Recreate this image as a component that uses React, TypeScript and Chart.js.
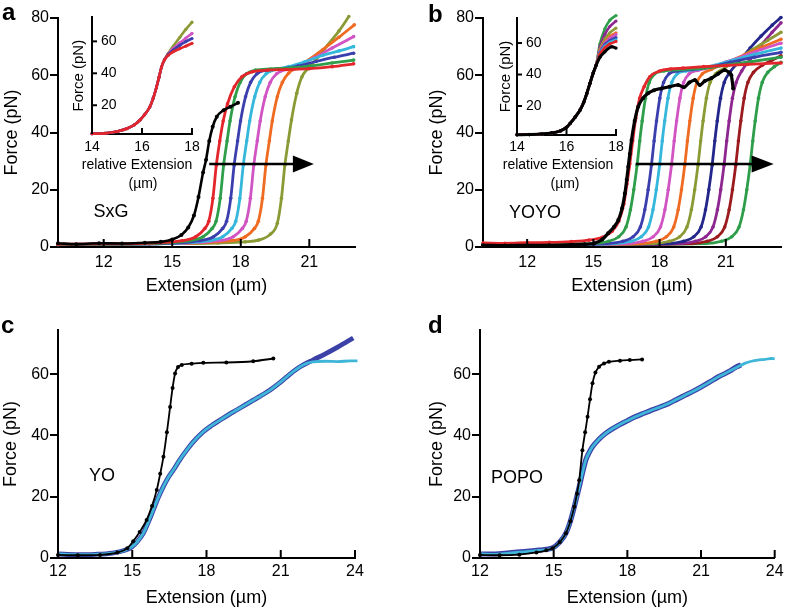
import React, { useEffect, useRef } from 'react';
import { Chart, registerables } from 'chart.js';

Chart.register(...registerables);

const FONT = "'Liberation Sans', Arial, Helvetica, sans-serif";
type Pt = [number, number];

// ---------------- tick values ----------------
const xTicksAB = [12, 15, 18, 21];
const xTicksCD = [12, 15, 18, 21, 24];
const yTicksAB = [0, 20, 40, 60, 80];
const yTicksCD = [0, 20, 40, 60];
const insetXTicks = [14, 16, 18];
const insetYTicks = [20, 40, 60];

// ---------------- panel a (SxG) ----------------
const aBlack: Pt[] = [[10,1.3],[10.8,1.0],[11.8,1.3],[12.8,1.2],[13.8,1.5],[14.5,1.8],[15.0,2.6],[15.4,4.2],[15.7,6.8],[15.95,11],[16.15,17.5],[16.35,26],[16.48,30.5],[16.62,37],[16.77,42],[16.95,45.5],[17.25,47.8],[17.55,49],[17.88,50.4]];
const aRed: Pt[] = [[10,1.0],[12,1.1],[13.5,1.2],[14.5,1.5],[15.43,2.2],[16.03,3.6],[16.43,6.5],[16.6,9],[16.78,17],[16.93,28.6],[17.08,37],[17.23,44],[17.42,50],[17.72,56],[18.05,59.5],[18.5,61.2],[19.2,61.8],[20,62],[21,62.3],[22,63],[22.94,64]];
const aGreen: Pt[] = [[10,0.9],[12,1.0],[14,1.2],[15.75,2.2],[16.35,3.6],[16.75,6.5],[16.92,9],[17.1,17],[17.25,28.6],[17.4,37],[17.53,44],[17.75,52.5],[17.97,57.5],[18.25,60.5],[18.65,61.8],[19.3,62.2],[20.2,62.6],[21,63.2],[22,64.3],[22.94,65.3]];
const aBlue: Pt[] = [[10,0.9],[12,1.0],[14,1.1],[16.21,2.2],[16.81,3.6],[17.21,6.5],[17.38,9],[17.56,17],[17.71,28.6],[17.86,37],[17.99,44],[18.21,52.5],[18.43,57.5],[18.71,60.5],[19.11,61.8],[19.8,62.3],[20.5,63.2],[21.3,64.8],[22.1,66.3],[22.94,67.7]];
const aCyan: Pt[] = [[10,0.9],[12,1.0],[14,1.1],[16.61,2.2],[17.21,3.6],[17.61,6.5],[17.78,9],[17.96,17],[18.11,28.6],[18.26,37],[18.39,44],[18.61,52.5],[18.83,57.5],[19.11,60.5],[19.51,62],[20.1,63],[20.8,64.7],[21.6,67],[22.3,68.5],[22.94,70]];
const aMagenta: Pt[] = [[10,0.9],[12,1.0],[14,1.1],[17.07,2.2],[17.67,3.6],[18.07,6.5],[18.24,9],[18.42,17],[18.57,28.6],[18.72,37],[18.85,44],[19.07,52.5],[19.29,57.5],[19.57,60.5],[19.97,62],[20.5,63.5],[21.2,66],[22,69.5],[22.94,73.5]];
const aOrange: Pt[] = [[10,0.9],[12,1.0],[14,1.1],[17.6,2.2],[18.2,3.6],[18.6,6.5],[18.77,9],[18.95,17],[19.1,28.6],[19.25,37],[19.38,44],[19.6,52.5],[19.82,57.5],[20.1,60.8],[20.5,62.8],[21,65.5],[21.6,69],[22.3,73.3],[22.97,77.6]];
const aOlive: Pt[] = [[10,0.9],[12,1.0],[14,1.1],[17,1.4],[18.2,1.8],[18.77,2.4],[19.3,4.5],[19.6,8.3],[19.78,17],[19.93,28.6],[20.08,37],[20.22,44.4],[20.45,53.7],[20.68,59.5],[20.95,62.4],[21.3,65.5],[21.8,70.5],[22.3,75.5],[22.73,80.5]];
const arrowA = [16.62, 20.28, 21.2, 29];

// inset a
const iaRise: Pt[] = [[14,2.2],[14.5,2.4],[15,3.5],[15.4,5.4],[15.7,7.8],[15.91,10.6],[16.1,14],[16.31,18.9],[16.45,24.5],[16.58,31.4],[16.68,37.5],[16.78,43.9],[16.9,48.5]];
const iaRedTop: Pt[] = [[17.05,51.3],[17.25,53.5],[17.51,55.4],[17.75,57],[18,58.8]];
const iaBlueTop: Pt[] = [[17.05,51.8],[17.25,54.5],[17.51,57.5],[17.75,59.8],[18,61.8]];
const iaMagentaTop: Pt[] = [[17.05,52],[17.25,55.5],[17.51,59],[17.75,62],[18,65]];
const iaOliveTop: Pt[] = [[17.05,52.5],[17.25,57],[17.51,62.5],[17.75,67.5],[18,72]];

// ---------------- panel b (YOYO) ----------------
const bBlack: Pt[] = [[10,0.6],[11,0.5],[12,0.6],[13,0.6],[14,0.8],[14.6,1.0],[15.05,1.3],[15.4,2.6],[15.67,4.8],[15.93,7],[16.13,9.4],[16.3,13.5],[16.43,18.8],[16.51,23.5],[16.58,28],[16.65,32.5],[16.73,37.4],[16.87,44],[17.03,49],[17.25,52],[17.48,53.7],[17.75,54.8],[18.09,55.4],[18.45,56],[18.84,56.6],[19.1,55.8],[19.35,57.5],[19.6,58.3],[19.82,56.6],[20.05,58],[20.35,59],[20.65,60.5],[20.95,61.8],[21.15,61],[21.25,60],[21.33,55.4]];
const bRed: Pt[] = [[10,1.4],[11,1.3],[12,1.5],[13,1.6],[14,1.9],[14.8,2.4],[15.4,3.4],[15.85,5.5],[16.15,9],[16.38,15],[16.52,22],[16.65,29],[16.78,37],[16.92,45],[17.1,52],[17.3,56],[17.56,59.5],[18,61.5],[18.5,62.2],[19.06,62.5],[20,63],[21,63.4],[22,63.8],[23.5,64.3]];
const bGreen1: Pt[] = [[10,0.7],[12,0.8],[14,1.0],[15,1.2],[15.68,2],[16.15,3.6],[16.48,7],[16.68,13],[16.83,20],[16.98,28.6],[17.1,37],[17.21,44],[17.36,52],[17.53,57.5],[17.78,60.5],[18.2,61.5],[19,62],[20,62.5],[21,63.5],[22.2,64.8],[23.5,66.3]];
const bBlue: Pt[] = [[10,0.7],[12,0.8],[14,0.9],[15.63,1.2],[16.33,2],[16.8,3.6],[17.13,7],[17.33,13],[17.48,20],[17.63,28.6],[17.75,37],[17.86,44],[18.01,52],[18.18,57.5],[18.43,60.5],[18.83,61.5],[19.5,62],[20.3,62.8],[21.2,64.5],[22.3,66.3],[23.5,68]];
const bCyan: Pt[] = [[10,0.7],[13,0.8],[16,1.2],[16.7,2],[17.17,3.6],[17.5,7],[17.7,13],[17.85,20],[18.0,28.6],[18.12,37],[18.23,44],[18.38,52],[18.55,57.5],[18.8,60.5],[19.2,61.5],[19.8,62.2],[20.5,63.5],[21.3,65.2],[22.3,67.3],[23.5,69.5]];
const bMagenta: Pt[] = [[10,0.7],[13,0.8],[16.54,1.2],[17.24,2],[17.71,3.6],[18.04,7],[18.24,13],[18.39,20],[18.54,28.6],[18.66,37],[18.77,44],[18.92,52],[19.09,57.5],[19.34,60.5],[19.74,61.7],[20.3,62.8],[21,64.6],[21.8,66.7],[22.6,69],[23.5,71.2]];
const bOrange: Pt[] = [[10,0.7],[13,0.8],[17.14,1.2],[17.84,2],[18.31,3.6],[18.64,7],[18.84,13],[18.99,20],[19.14,28.6],[19.26,37],[19.37,44],[19.52,52],[19.69,57.5],[19.94,60.5],[20.34,62],[21,64.3],[21.8,67],[22.6,69.7],[23.5,72.6]];
const bOlive: Pt[] = [[10,0.7],[13,0.8],[17.74,1.2],[18.44,2],[18.91,3.6],[19.24,7],[19.44,13],[19.59,20],[19.74,28.6],[19.86,37],[19.97,44],[20.12,52],[20.29,57.5],[20.54,60.5],[20.94,62.5],[21.5,65.3],[22.2,68.9],[22.9,72.2],[23.5,75]];
const bNavy: Pt[] = [[10,0.7],[13,0.8],[18.38,1.2],[19.08,2],[19.55,3.6],[19.88,7],[20.08,13],[20.23,20],[20.38,28.6],[20.5,37],[20.61,44],[20.76,52],[20.93,57.5],[21.18,61],[21.6,64.8],[22.1,69.5],[22.6,73.7],[23.1,77.5],[23.5,80.2]];
const bPurple: Pt[] = [[10,0.7],[13,0.8],[18.92,1.2],[19.62,2],[20.09,3.6],[20.42,7],[20.62,13],[20.77,20],[20.92,28.6],[21.04,37],[21.15,44],[21.3,52],[21.47,57.5],[21.72,61.5],[22.1,65.5],[22.6,70.5],[23.1,75],[23.5,78.3]];
const bMaroon: Pt[] = [[10,0.7],[13,0.8],[19.45,1.2],[20.15,2],[20.62,3.6],[20.95,7],[21.15,13],[21.3,20],[21.45,28.6],[21.57,37],[21.68,44],[21.83,52],[22.0,57.5],[22.25,61],[22.65,63.5],[23.1,65.3],[23.5,66.8]];
const bGreen2: Pt[] = [[10,0.7],[13,0.8],[20.1,1.2],[20.8,2],[21.27,3.6],[21.6,7],[21.8,13],[21.95,20],[22.1,28.6],[22.22,37],[22.33,44],[22.48,52],[22.65,57.5],[22.9,61],[23.2,63],[23.5,64.5]];
const arrowB = [16.92, 22.17, 23.17, 29];

// inset b
const ibRise: Pt[] = [[14,1.8],[14.5,1.9],[15,2.2],[15.4,2.9],[15.75,4.2],[16.0,6.5],[16.15,9],[16.35,13],[16.55,17.5],[16.7,22.5],[16.82,28],[16.95,34.5],[17.08,41],[17.2,46]];
const ibBlackTop: Pt[] = [[17.35,51],[17.55,54.5],[17.83,57.7],[18,56.8]];
const ibRedTop: Pt[] = [[17.35,53],[17.55,57],[17.75,59.5],[18,61]];
const ibCyanTop: Pt[] = [[17.35,53.5],[17.55,58],[17.75,60.5],[18,62]];
const ibBlueTop: Pt[] = [[17.35,54],[17.55,59],[17.75,61.5],[18,63.5]];
const ibMagentaTop: Pt[] = [[17.35,54.5],[17.55,60],[17.75,63],[18,65.5]];
const ibOrangeTop: Pt[] = [[17.35,55],[17.55,60.5],[17.75,64],[18,66.5]];
const ibOliveTop: Pt[] = [[17.35,56],[17.55,62.5],[17.75,66.5],[18,69.5]];
const ibPurpleTop: Pt[] = [[17.35,57.5],[17.55,65.5],[17.75,70.5],[18,74]];
const ibGreenTop: Pt[] = [[17.35,59.5],[17.55,69],[17.75,74.5],[18,77.5]];

// ---------------- panel c (YO) ----------------
const cBlack: Pt[] = [[12,1.0],[12.8,0.9],[13.7,1.0],[14.4,1.8],[14.8,3.2],[15.04,5.5],[15.3,8.5],[15.58,12.4],[15.8,17],[15.99,22.2],[16.13,27.5],[16.26,33],[16.4,41],[16.53,49.3],[16.63,55.5],[16.73,60.2],[16.85,62.3],[17.0,63],[17.4,63.4],[17.87,63.7],[18.8,63.8],[19.89,64.2],[20.7,65.1]];
const cCyan: Pt[] = [[12,1.3],[12.7,1.1],[13.5,1.2],[14.2,1.6],[14.7,2.5],[14.98,3.6],[15.2,5.3],[15.45,8.1],[15.65,11.7],[15.85,15.7],[16.05,19.7],[16.25,23.2],[16.45,26.2],[16.66,28.7],[16.9,31.8],[17.2,35.2],[17.5,38.2],[17.87,41.2],[18.2,43.2],[18.55,45],[18.9,46.8],[19.22,48.3],[19.55,49.9],[19.89,51.5],[20.23,53.1],[20.57,54.8],[20.9,56.8],[21.24,59.1],[21.5,60.8],[21.78,62.4],[22.05,63.5],[22.3,64],[22.8,64.2],[23.3,64.1],[23.8,64.3],[24.1,64.3]];
const cBlue: Pt[] = [[12,1.3],[12.7,1.1],[13.5,1.2],[14.2,1.6],[14.7,2.5],[14.98,3.6],[15.2,5.3],[15.45,8.1],[15.65,11.7],[15.85,15.7],[16.05,19.7],[16.25,23.2],[16.45,26.2],[16.66,28.7],[16.9,31.8],[17.2,35.2],[17.5,38.2],[17.87,41.2],[18.2,43.2],[18.55,45],[18.9,46.8],[19.22,48.3],[19.55,49.9],[19.89,51.5],[20.23,53.1],[20.57,54.8],[20.9,56.8],[21.24,59.1],[21.5,60.8],[21.78,62.4],[22.3,64.6],[22.8,66.6],[23.3,68.8],[23.93,71.8]];

// ---------------- panel d (POPO) ----------------
const dBlack: Pt[] = [[12,1.0],[12.8,0.9],[13.6,1.1],[14.3,1.8],[14.7,2.5],[14.96,3.2],[15.25,5.2],[15.5,8.1],[15.68,12],[15.84,16.7],[15.95,21],[16.04,25.4],[16.17,35.2],[16.28,41],[16.38,46.1],[16.48,51.8],[16.58,57],[16.7,60.5],[16.85,62.4],[17.05,63.5],[17.25,64],[17.7,64.4],[18.1,64.6],[18.6,64.8]];
const dCyan: Pt[] = [[12,1.3],[12.6,1.2],[13.2,1.6],[13.8,2.0],[14.4,2.5],[14.96,3.2],[15.25,5.2],[15.5,8.1],[15.68,12],[15.84,16.7],[16.04,23.2],[16.18,28],[16.31,32],[16.45,34.5],[16.58,36.3],[16.85,38.8],[17.12,40.7],[17.4,42.2],[17.66,43.4],[18.0,44.8],[18.33,46.1],[18.66,47.2],[19.0,48.3],[19.34,49.3],[19.68,50.4],[20.0,51.7],[20.35,53.1],[20.7,54.5],[21.02,55.9],[21.35,57.4],[21.7,59.1],[22.0,60.3],[22.23,61.3],[22.5,62.4],[22.78,63.5],[23.05,64.2],[23.31,64.6],[23.6,64.8],[23.85,65.1],[24,65]];
const dBlue: Pt[] = [[12,1.3],[12.6,1.3],[13.2,1.7],[13.8,2.1],[14.4,2.6],[14.96,3.3],[15.25,5.2],[15.5,8.1],[15.68,12],[15.84,16.7],[16.04,23.2],[16.18,28],[16.31,32],[16.45,34.5],[16.58,36.3],[16.85,38.8],[17.12,40.7],[17.4,42.2],[17.66,43.4],[18.0,44.8],[18.33,46.1],[18.66,47.2],[19.0,48.3],[19.34,49.3],[19.68,50.4],[20.0,51.7],[20.35,53.1],[20.7,54.5],[21.02,55.9],[21.35,57.4],[21.7,59.1],[22.0,60.3],[22.23,61.3],[22.45,62.4],[22.63,63]];

// ---------------- colours ----------------
const C = {
  black: '#000000', red: '#e3262b', green: '#2f9e4a', blue: '#3b3fae', cyan: '#35b7dc',
  magenta: '#d154c3', orange: '#ef6b22', olive: '#8c9a35', navy: '#23268a', purple: '#8d268f',
  maroon: '#9c1b1e', cBlue: '#3c41a8', cCyan: '#3fb6d8',
};

function ds(data: Pt[], color: string, width = 2.8, radius = 1.8) {
  return {
    data: data.map(([x, y]) => ({ x, y })),
    showLine: true,
    borderColor: color,
    backgroundColor: color,
    borderWidth: width,
    pointRadius: radius,
    pointBorderWidth: 0,
    pointBackgroundColor: color,
    cubicInterpolationMode: 'monotone',
    clip: false,
  };
}

const tickMarks = {
  id: 'tickMarks',
  afterDraw(chart: any, _a: any, opts: any) {
    const { ctx, chartArea } = chart;
    const xs = chart.scales.x;
    const ys = chart.scales.y;
    ctx.save();
    ctx.strokeStyle = '#000';
    ctx.lineWidth = 2;
    if (opts && opts.x) {
      for (const t of xs.ticks) {
        const p = xs.getPixelForValue(t.value);
        ctx.beginPath();
        ctx.moveTo(p, chartArea.bottom);
        ctx.lineTo(p, chartArea.bottom - opts.x);
        ctx.stroke();
      }
    }
    if (opts && opts.y) {
      for (const t of ys.ticks) {
        const p = ys.getPixelForValue(t.value);
        ctx.beginPath();
        ctx.moveTo(chartArea.left, p);
        ctx.lineTo(chartArea.left + opts.y, p);
        ctx.stroke();
      }
    }
    ctx.restore();
  },
};

const arrowPlugin = {
  id: 'arrow',
  afterDatasetsDraw(chart: any, _a: any, opts: any) {
    if (!opts || !opts.path) return;
    const [x0, xb, xt, yv] = opts.path;
    const xs = chart.scales.x;
    const ys = chart.scales.y;
    const ctx = chart.ctx;
    const p0 = xs.getPixelForValue(x0);
    const pb = xs.getPixelForValue(xb);
    const pt = xs.getPixelForValue(xt);
    const py = ys.getPixelForValue(yv);
    ctx.save();
    ctx.strokeStyle = '#000';
    ctx.fillStyle = '#000';
    ctx.lineWidth = opts.width;
    ctx.beginPath();
    ctx.moveTo(p0, py);
    ctx.lineTo(pb + 1, py);
    ctx.stroke();
    ctx.beginPath();
    ctx.moveTo(pb, py - opts.half);
    ctx.lineTo(pt, py);
    ctx.lineTo(pb, py + opts.half);
    ctx.closePath();
    ctx.fill();
    ctx.restore();
  },
};

interface Spec {
  datasets: any[];
  xMin: number; xMax: number; xTicks: number[];
  yMin: number; yMax: number; yTicks: number[];
  pad: { left: number; top: number; right: number; bottom: number };
  yW: number; xH: number;
  tickSize: number; titleSize: number;
  xTitle?: string; xTitlePad?: number; xLabelPad: number;
  yTitle: string; yTitleSize: number; yTitlePad: number;
  inset: boolean;
  arrow?: number[];
}

function buildConfig(s: Spec): any {
  return {
    type: 'scatter',
    data: { datasets: s.datasets },
    options: {
      animation: false,
      responsive: false,
      devicePixelRatio: 1,
      events: [],
      layout: { padding: s.pad },
      plugins: {
        legend: { display: false },
        tooltip: { enabled: false },
        title: { display: false },
        tickMarks: { x: s.inset ? 6 : 8, y: s.inset ? 5 : 0 },
        arrow: s.arrow ? { path: s.arrow, width: 2.5, half: 8.5 } : {},
      },
      scales: {
        x: {
          type: 'linear',
          min: s.xMin,
          max: s.xMax,
          afterBuildTicks: (sc: any) => { sc.ticks = s.xTicks.map((v) => ({ value: v })); },
          afterFit: (sc: any) => { sc.height = s.xH; },
          grid: { display: false, drawTicks: false },
          border: { display: true, color: '#000', width: 2 },
          ticks: {
            color: '#000', font: { family: FONT, size: s.tickSize }, padding: s.xLabelPad,
            maxRotation: 0, minRotation: 0, autoSkip: false, callback: (v: any) => String(v),
          },
          title: s.xTitle
            ? { display: true, text: s.xTitle, color: '#000', font: { family: FONT, size: s.titleSize }, padding: { top: 0, bottom: s.xTitlePad } }
            : { display: false },
        },
        y: {
          type: 'linear',
          min: s.yMin,
          max: s.yMax,
          afterBuildTicks: (sc: any) => { sc.ticks = s.yTicks.map((v) => ({ value: v })); },
          afterFit: (sc: any) => { sc.width = s.yW; },
          grid: s.inset
            ? { display: false, drawTicks: false }
            : { display: true, drawOnChartArea: false, drawTicks: true, tickLength: 8, color: '#000', lineWidth: 2 },
          border: { display: true, color: '#000', width: 2 },
          ticks: {
            color: '#000', font: { family: FONT, size: s.tickSize },
            padding: s.inset ? 9 : 1, mirror: s.inset, autoSkip: false,
            callback: (v: any) => String(v),
          },
          title: { display: true, text: s.yTitle, color: '#000', font: { family: FONT, size: s.yTitleSize }, padding: { top: s.yTitlePad, bottom: 0 } },
        },
      },
    },
    plugins: [tickMarks, arrowPlugin],
  };
}

interface Box { left: number; top: number; w: number; h: number }

function PanelChart({ box, spec }: { box: Box; spec: () => Spec }) {
  const ref = useRef<HTMLCanvasElement>(null);
  useEffect(() => {
    const chart = new Chart(ref.current as HTMLCanvasElement, buildConfig(spec()));
    return () => chart.destroy();
  }, []);
  return (
    <div style={{ position: 'absolute', left: box.left, top: box.top, width: box.w, height: box.h }}>
      <canvas ref={ref} width={box.w} height={box.h} style={{ width: box.w, height: box.h, display: 'block' }} />
    </div>
  );
}

const specA = (): Spec => ({
  datasets: [
    ds(aBlack, C.black, 2.6, 2), ds(aRed, C.red), ds(aGreen, C.green), ds(aBlue, C.blue), ds(aCyan, C.cyan),
    ds(aMagenta, C.magenta), ds(aOrange, C.orange), ds(aOlive, C.olive),
  ],
  xMin: 10, xMax: 23, xTicks: xTicksAB, yMin: 0, yMax: 80, yTicks: yTicksAB,
  pad: { left: 0, top: 18, right: 39, bottom: 0 }, yW: 58, xH: 58,
  tickSize: 16, titleSize: 18, xTitle: 'Extension (µm)', xTitlePad: 8.2, xLabelPad: 6.4,
  yTitle: 'Force (pN)', yTitleSize: 18, yTitlePad: 1.2, inset: false, arrow: arrowA,
});

const specB = (): Spec => ({
  datasets: [
    ds(bBlack, C.black, 3.2, 2), ds(bRed, C.red), ds(bGreen1, C.green), ds(bBlue, C.blue), ds(bCyan, C.cyan),
    ds(bMagenta, C.magenta), ds(bOrange, C.orange), ds(bOlive, C.olive), ds(bNavy, C.navy), ds(bPurple, C.purple),
    ds(bMaroon, C.maroon), ds(bGreen2, C.green),
  ],
  xMin: 10, xMax: 23.5, xTicks: xTicksAB, yMin: 0, yMax: 80, yTicks: yTicksAB,
  pad: { left: 0, top: 18, right: 7, bottom: 0 }, yW: 89, xH: 58,
  tickSize: 16, titleSize: 18, xTitle: 'Extension (µm)', xTitlePad: 8.2, xLabelPad: 6.4,
  yTitle: 'Force (pN)', yTitleSize: 18, yTitlePad: 32, inset: false, arrow: arrowB,
});

const specC = (): Spec => ({
  datasets: [ds(cBlack, C.black, 1.8, 2), ds(cCyan, C.cCyan, 2.8, 0), ds(cBlue, C.cBlue, 4.8, 0)],
  xMin: 12, xMax: 24, xTicks: xTicksCD, yMin: 0, yMax: 74.4, yTicks: yTicksCD,
  pad: { left: 0, top: 25, right: 39, bottom: 0 }, yW: 58, xH: 51,
  tickSize: 16, titleSize: 18, xTitle: 'Extension (µm)', xTitlePad: 0.2, xLabelPad: 4.4,
  yTitle: 'Force (pN)', yTitleSize: 18, yTitlePad: 0.2, inset: false,
});

const specD = (): Spec => ({
  datasets: [ds(dBlack, C.black, 1.8, 2), ds(dCyan, C.cCyan, 2.8, 0), ds(dBlue, C.cBlue, 5.2, 0)],
  xMin: 12, xMax: 24, xTicks: xTicksCD, yMin: 0, yMax: 74.4, yTicks: yTicksCD,
  pad: { left: 0, top: 25, right: 11, bottom: 0 }, yW: 86, xH: 51,
  tickSize: 16, titleSize: 18, xTitle: 'Extension (µm)', xTitlePad: 0.2, xLabelPad: 4.4,
  yTitle: 'Force (pN)', yTitleSize: 18, yTitlePad: 32.2, inset: false,
});

const specIA = (): Spec => ({
  datasets: [
    ds([...iaRise, ...iaRedTop], C.red, 2.6, 1.6), ds([...iaRise, ...iaBlueTop], C.blue, 2.6, 1.6),
    ds([...iaRise, ...iaMagentaTop], C.magenta, 2.6, 1.6), ds([...iaRise, ...iaOliveTop], C.olive, 2.6, 1.6),
  ],
  xMin: 14, xMax: 18, xTicks: insetXTicks, yMin: 2, yMax: 75, yTicks: insetYTicks,
  pad: { left: 0, top: 17, right: 28, bottom: 0 }, yW: 32, xH: 26,
  tickSize: 14, titleSize: 14, xLabelPad: 4.6,
  yTitle: 'Force (pN)', yTitleSize: 15, yTitlePad: 10, inset: true,
});

const specIB = (): Spec => ({
  datasets: [
    ds([...ibRise, ...ibBlackTop], C.black, 3, 1.7), ds([...ibRise, ...ibRedTop], C.red, 2.6, 1.6),
    ds([...ibRise, ...ibCyanTop], C.cyan, 2.6, 1.6), ds([...ibRise, ...ibBlueTop], C.blue, 2.6, 1.6),
    ds([...ibRise, ...ibMagentaTop], C.magenta, 2.6, 1.6), ds([...ibRise, ...ibOrangeTop], C.orange, 2.6, 1.6),
    ds([...ibRise, ...ibOliveTop], C.olive, 2.6, 1.6), ds([...ibRise, ...ibPurpleTop], C.purple, 2.6, 1.6),
    ds([...ibRise, ...ibGreenTop], C.green, 2.6, 1.6),
  ],
  xMin: 14, xMax: 18, xTicks: insetXTicks, yMin: 1.6, yMax: 75.9, yTicks: insetYTicks,
  pad: { left: 0, top: 18, right: 34, bottom: 0 }, yW: 47, xH: 25,
  tickSize: 14, titleSize: 14, xLabelPad: 3.6,
  yTitle: 'Force (pN)', yTitleSize: 15, yTitlePad: 27, inset: true,
});

const panelLetters = [
  { t: 'a', x: 2, y: 0 },
  { t: 'b', x: 428, y: 2 },
  { t: 'c', x: 1, y: 313 },
  { t: 'd', x: 428, y: 313 },
];

const notes = [
  { t: 'SxG', x: 111, y: 211, size: 18 },
  { t: 'YOYO', x: 535, y: 212, size: 18 },
  { t: 'YO', x: 102, y: 475, size: 18 },
  { t: 'POPO', x: 517, y: 477, size: 18 },
  { t: 'relative Extension', x: 137, y: 164, size: 14 },
  { t: '(µm)', x: 143, y: 182.5, size: 14 },
  { t: 'relative Extension', x: 558, y: 164, size: 14 },
  { t: '(µm)', x: 565, y: 182.5, size: 14 },
];

export default function App() {
  return (
    <div style={{ position: 'absolute', left: 0, top: 0, width: 788, height: 609, background: '#fff', overflow: 'hidden', fontFamily: FONT, color: '#000' }}>
      <PanelChart box={{ left: 0, top: 0, w: 394, h: 305 }} spec={specA} />
      <PanelChart box={{ left: 394, top: 0, w: 394, h: 305 }} spec={specB} />
      <PanelChart box={{ left: 0, top: 305, w: 394, h: 304 }} spec={specC} />
      <PanelChart box={{ left: 394, top: 305, w: 394, h: 304 }} spec={specD} />
      <PanelChart box={{ left: 60, top: 0, w: 160, h: 160 }} spec={specIA} />
      <PanelChart box={{ left: 470, top: 0, w: 180, h: 160 }} spec={specIB} />
      {panelLetters.map((p) => (
        <div key={p.t} style={{ position: 'absolute', left: p.x, top: p.y, fontSize: 24, lineHeight: '24px', fontWeight: 'bold' }}>{p.t}</div>
      ))}
      {notes.map((n, i) => (
        <div key={i} style={{ position: 'absolute', left: n.x, top: n.y, transform: 'translate(-50%, -50%)', fontSize: n.size, lineHeight: `${n.size}px`, whiteSpace: 'nowrap' }}>{n.t}</div>
      ))}
    </div>
  );
}
